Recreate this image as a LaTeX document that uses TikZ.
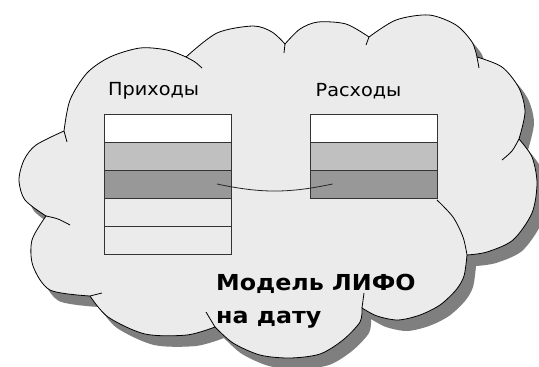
\documentclass[tikz,border=0pt]{standalone}
\usepackage{fontspec}
\setmainfont{DejaVu Sans}
\newfontfamily\headfont[FakeStretch=1.07]{DejaVu Sans}
\newfontfamily\captionfont[FakeStretch=1.08]{DejaVu Sans}
\usetikzlibrary{positioning}

\definecolor{cloudgray}{HTML}{EBEBEB}
\definecolor{shadowgray}{HTML}{7F7F7F}
\definecolor{lightrow}{HTML}{C0C0C0}
\definecolor{darkrow}{HTML}{989898}

% outline of the cloud, one smooth piece per bump
\newcommand{\CloudOutline}{(64,131)
  -- plot[smooth] coordinates {(64,131) (70,100) (87,73) (110,57) (140,48) (167,50) (186,57)}
  -- plot[smooth] coordinates {(186,57) (217,33) (253,26) (272,32) (285,44)}
  -- plot[smooth] coordinates {(285,44) (300,29) (318,22) (346,24) (369,37)}
  -- plot[smooth] coordinates {(369,37) (396,20) (429,15) (456,25) (472,42) (477,57)}
  -- plot[smooth] coordinates {(477,57) (502,67) (519,88) (525,112) (519,139)}
  -- plot[smooth] coordinates {(519,139) (532,157) (537,183) (532,213) (513,240) (487,252) (467,255)}
  -- plot[smooth] coordinates {(467,255) (464,276) (456,290) (440,305) (420,315) (398,320) (377,316) (362,308)}
  -- plot[smooth] coordinates {(362,308) (360,322) (343,340) (320,354) (290,358) (260,355) (233,343) (215,327)}
  -- plot[smooth] coordinates {(215,327) (187,335) (145,334) (108,317) (90,296)}
  -- plot[smooth] coordinates {(90,296) (50,290) (33,266) (32,240) (46,216)}
  -- plot[smooth] coordinates {(46,216) (25,200) (19,180) (24,160) (36,145) (64,131)}
  -- cycle}

\begin{document}
\begin{tikzpicture}[x=1pt, y=-1pt,
  row/.style={draw=black!80, line width=0.9pt, minimum width=127pt, minimum height=28pt, inner sep=0pt, outer sep=0pt},
  lbl/.style={inner sep=0pt, font=\headfont\fontsize{18}{21}\selectfont},
  modeltext/.style={inner sep=0pt, align=left, font=\captionfont\fontsize{22}{33}\selectfont\bfseries},
  connector/.style={draw=black!85, line width=0.8pt}]

  \useasboundingbox (0,0) rectangle (539,367);
  \fill[white] (0,0) rectangle (539,367);

  % Cloud with its shadow
  \fill[shadowgray, shift={(9,11)}] \CloudOutline;
  \filldraw[fill=cloudgray, draw=black, line width=0.8pt] \CloudOutline;

  % Short inner ends of the bumps
  \draw[line width=0.8pt] (64,131) -- (67,142);
  \draw[line width=0.8pt] plot[smooth] coordinates {(186,57) (195,62) (202,68)};
  \draw[line width=0.8pt] (285,44) -- (284,53);
  \draw[line width=0.8pt] (369,37) -- (366,45);
  \draw[line width=0.8pt] (477,57) -- (479,68);
  \draw[line width=0.8pt] plot[smooth] coordinates {(519,139) (512,151) (502,160)};
  \draw[line width=0.8pt] plot[smooth] coordinates {(437,200) (453,217) (463,237) (467,255)};
  \draw[line width=0.8pt] (362,308) -- (364,293);
  \draw[line width=0.8pt] (215,327) -- (206,312);
  \draw[line width=0.8pt] (90,296) -- (102,293);
  \draw[line width=0.8pt] plot[smooth] coordinates {(46,216) (58,219) (70,225)};

  % Incoming stack
  \node[row, fill=white] (Income1) at (167.5,128) {};
  \node[row, fill=lightrow, below=0pt of Income1] (Income2) {};
  \node[row, fill=darkrow, below=0pt of Income2] (Income3) {};
  \node[row, below=0pt of Income3] (Income4) {};
  \node[row, below=0pt of Income4] (Income5) {};

  % Outgoing stack
  \node[row, fill=white] (Expense1) at (374,128) {};
  \node[row, fill=lightrow, below=0pt of Expense1] (Expense2) {};
  \node[row, fill=darkrow, below=0pt of Expense2] (Expense3) {};

  % Headings
  \node[lbl, above right=15pt and 4pt of Income1.north west] (IncomeLabel) {Приходы};
  \node[lbl, above right=15pt and 5pt of Expense1.north west] (ExpenseLabel) {Расходы};

  % Link between the matching rows
  \draw[connector] ([xshift=-14pt]Income3.east) to[bend right=12] ([xshift=22pt]Expense3.west);

  % Caption
  \node[modeltext, anchor=north west] (ModelLabel) at (216,274) {Модель ЛИФО\\на дату};

\end{tikzpicture}
\end{document}
